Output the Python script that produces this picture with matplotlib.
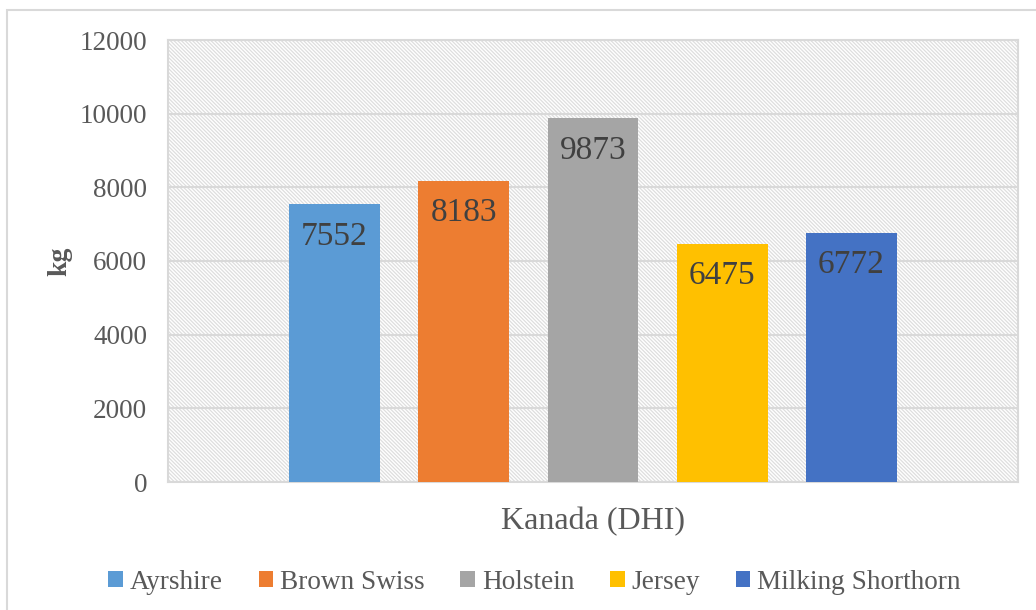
import matplotlib
matplotlib.use("Agg")
import matplotlib.pyplot as plt
from matplotlib.patches import Rectangle
import numpy as np

# data
category = "Kanada (DHI)"
breeds = ["Ayrshire", "Brown Swiss", "Holstein", "Jersey", "Milking Shorthorn"]
yields = [7552, 8183, 9873, 6475, 6772]
colors = ["#5B9BD5", "#ED7D31", "#A5A5A5", "#FFC000", "#4472C4"]

plt.rcParams["font.family"] = ["Liberation Serif", "DejaVu Serif"]
plt.rcParams["hatch.linewidth"] = 0.9
GRID = "#D9D9D9"
TXT = "#595959"

fig = plt.figure(figsize=(10.36, 6.10), dpi=100)
ax = fig.add_axes([168 / 1036, 1 - 482 / 610, 850 / 1036, 442 / 610])

# hatched plot area background
bg = Rectangle((0, 0), 1, 1, transform=ax.transAxes, facecolor="white",
               edgecolor="#DEDEDE", hatch="\\" * 9, linewidth=0, zorder=0)
ax.add_patch(bg)

step = 0.152
width = 0.107
for i, (b, v, c) in enumerate(zip(breeds, yields, colors)):
    x = (i - 2) * step
    ax.bar(x, v, width=width, color=c, label=b, zorder=3)
    ax.annotate(f"{v}", (x, v), xytext=(0, -23.5), textcoords="offset points",
                ha="center", va="center", fontsize=24, color="#404040", zorder=4)

ax.set_xlim(-0.5, 0.5)
ax.set_ylim(0, 12000)
ax.set_yticks(np.arange(0, 12001, 2000))
ax.yaxis.grid(True, color=GRID, linewidth=1.5, zorder=1)
ax.set_xticks([0])
ax.set_xticklabels([category])
ax.tick_params(axis="x", length=0, pad=18, labelsize=23, labelcolor=TXT)
ax.tick_params(axis="y", length=0, pad=15, labelsize=19.5, labelcolor=TXT)
for s in ax.spines.values():
    s.set_color(GRID)
    s.set_linewidth(1.5)
ax.set_ylabel("kg", fontsize=20, fontweight="bold", color=TXT, labelpad=5)

fig.legend(loc="lower center", bbox_to_anchor=(0.516, -0.015), ncol=5,
           frameon=False, fontsize=19.6, labelcolor=TXT, handlelength=0.55,
           handleheight=0.55, handletextpad=0.25, columnspacing=1.3)

# outer chart border
fig.add_artist(Rectangle((7 / 1036, -0.2), 1.5, 1.2 - 10 / 610,
                         transform=fig.transFigure, fill=False,
                         edgecolor=GRID, linewidth=1.5))

fig.savefig("out.png", dpi=100)
